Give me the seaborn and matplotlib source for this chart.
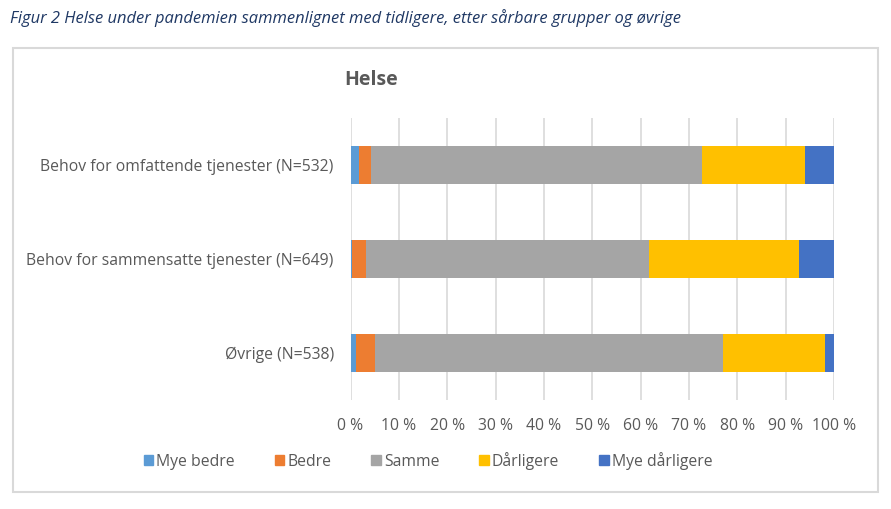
import numpy as np
import pandas as pd
import matplotlib
matplotlib.use("Agg")
import matplotlib.pyplot as plt
import matplotlib.patches as mpatches
import seaborn as sns

# Data (percent of each group)
groups = ["Behov for omfattende tjenester (N=532)",
          "Behov for sammensatte tjenester (N=649)",
          "Øvrige (N=538)"]
categories = ["Mye bedre", "Bedre", "Samme", "Dårligere", "Mye dårligere"]
mye_bedre = [1.7, 0.4, 1.2]
bedre = [2.5, 2.9, 3.9]
samme = [68.4, 58.4, 72.0]
darligere = [21.3, 31.0, 21.1]
mye_darligere = [6.1, 7.3, 1.8]
x_ticks = [0, 10, 20, 30, 40, 50, 60, 70, 80, 90, 100]

colors = ["#5B9BD5", "#ED7D31", "#A5A5A5", "#FFC000", "#4472C4"]
text_grey = "#595959"

sns.set_theme(style="white")
plt.rcParams['font.family'] = ['Open Sans', 'DejaVu Sans']

df = pd.DataFrame({"group": groups, "Mye bedre": mye_bedre, "Bedre": bedre,
                   "Samme": samme, "Dårligere": darligere,
                   "Mye dårligere": mye_darligere})
cum = df[categories].cumsum(axis=1)

fig = plt.figure(figsize=(8.91, 5.09), dpi=100)
ax = fig.add_axes([350.5 / 891, 1 - 400 / 509, 483.5 / 891, 282 / 509])

# stacked bars: draw cumulative totals from the right-most segment backwards
for cat, col in reversed(list(zip(categories, colors))):
    sns.barplot(x=cum[cat], y=df["group"], color=col, width=0.4,
                orient="h", ax=ax, saturation=1, zorder=3, linewidth=0)

ax.set_xlim(0, 100)
ax.set_xticks(x_ticks)
ax.set_xticklabels([f"{t} %" for t in x_ticks])
ax.set_xlabel("")
ax.set_ylabel("")
ax.grid(axis="x", color="#D9D9D9", linewidth=1.2, zorder=0)
ax.set_axisbelow(True)
for s in ax.spines.values():
    s.set_visible(False)
ax.tick_params(axis="both", length=0, colors=text_grey, labelsize=11.3)
ax.tick_params(axis="y", pad=12)
ax.tick_params(axis="x", pad=13)

# title and caption
fig.text(371 / 891, 1 - 80 / 509, "Helse", ha="center", va="center",
         fontsize=14, fontweight="bold", color=text_grey)
fig.text(10 / 891, 1 - 18 / 509,
         "Figur 2 Helse under pandemien sammenlignet med tidligere, etter sårbare grupper og øvrige",
         ha="left", va="center", fontsize=11.9, style="italic", color="#1F3864")

# chart border
fig.add_artist(mpatches.Rectangle((13 / 891, 1 - 492 / 509), 865 / 891, 444 / 509,
                                  transform=fig.transFigure, fill=False,
                                  edgecolor="#D9D9D9", linewidth=1.5))

handles = [mpatches.Patch(color=c, label=l) for c, l in zip(colors, categories)]
fig.legend(handles=handles, loc="center", bbox_to_anchor=(428 / 891, 1 - 461 / 509),
           ncol=5, frameon=False, fontsize=11.3, handlelength=0.6, handleheight=0.6,
           handletextpad=0.2, columnspacing=2.55, labelcolor=text_grey)

plt.savefig("out.png", dpi=100)
